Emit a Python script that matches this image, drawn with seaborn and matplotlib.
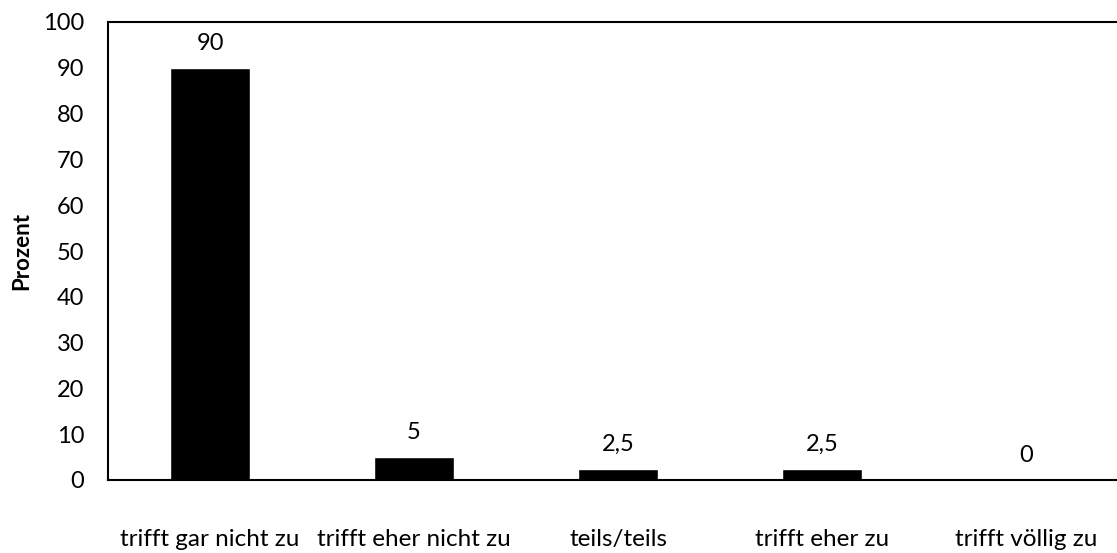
import matplotlib
matplotlib.use("Agg")
import matplotlib.pyplot as plt
import seaborn as sns
import pandas as pd

categories = ["trifft gar nicht zu", "trifft eher nicht zu", "teils/teils", "trifft eher zu", "trifft völlig zu"]
values = [90, 5, 2.5, 2.5, 0]
value_labels = ["90", "5", "2,5", "2,5", "0"]

sns.set_theme(style="white")
plt.rcParams['font.family'] = ['Lato', 'DejaVu Sans']

df = pd.DataFrame({"cat": categories, "val": values})

fig = plt.figure(figsize=(11.17, 5.53), dpi=100)
ax = fig.add_axes([108/1117, 1 - 480/553, (1128-108)/1117, (480-22)/553])
sns.barplot(data=df, x="cat", y="val", color="black", width=0.395, ax=ax, saturation=1)
ax.set_xlim(-0.5, 4.5)
ax.set_ylim(0, 100)
ax.set_yticks(range(0, 101, 10))
ax.tick_params(axis='y', length=0, pad=17, labelsize=17, colors="black")
ax.tick_params(axis='x', length=0, pad=35, labelsize=17.5, colors="black")
ax.set_xlabel("")
ax.set_ylabel("Prozent", fontsize=16, fontweight="bold", labelpad=8, color="black")
for s in ["left", "top", "bottom"]:
    ax.spines[s].set_visible(True)
    ax.spines[s].set_color("black")
    ax.spines[s].set_linewidth(1.5)
ax.spines["right"].set_visible(False)

for i, (v, lab) in enumerate(zip(values, value_labels)):
    ax.annotate(lab, (i, v), xytext=(0, 10), textcoords="offset points",
                ha="center", va="bottom", fontsize=17, color="black")

fig.savefig("out.png", dpi=100)
